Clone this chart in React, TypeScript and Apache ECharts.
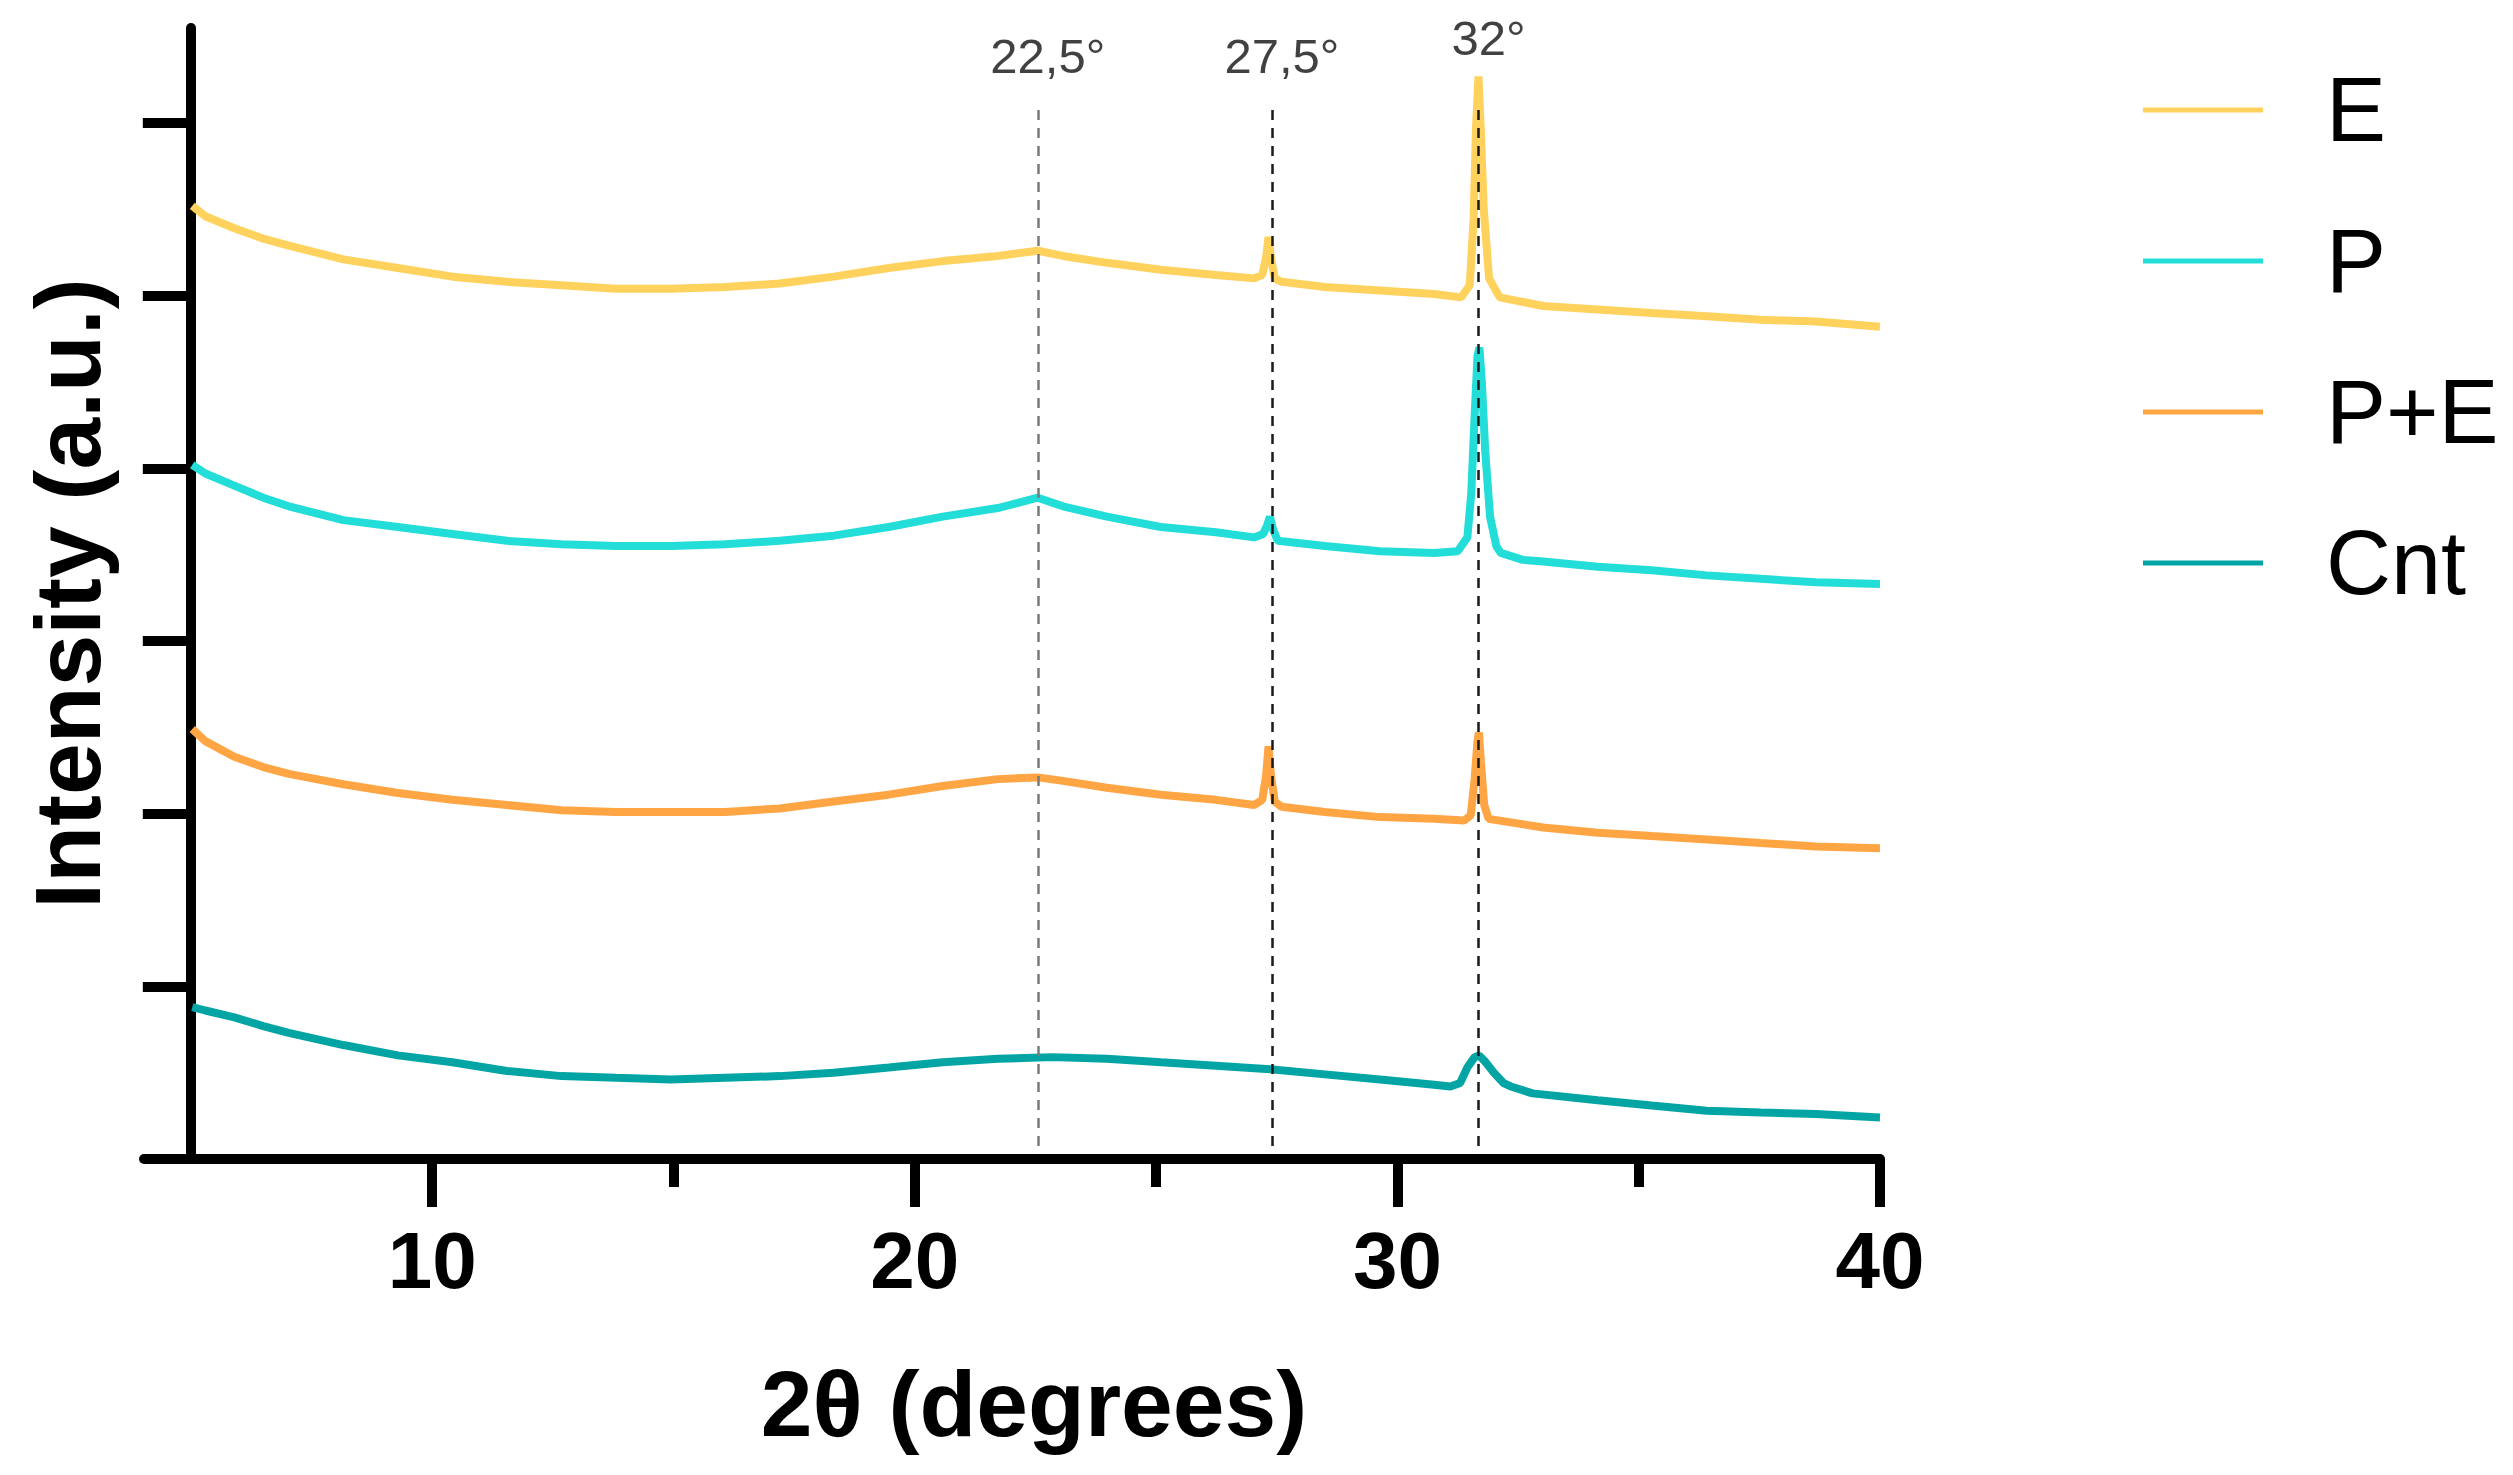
import React, { useEffect, useRef } from 'react';
import * as echarts from 'echarts';

// Diffractograms: [2θ, intensity in a.u. (tick = 1)]
const seriesNames = ['E', 'P', 'P+E', 'Cnt'];
const seriesColors = ['#FFD25E', '#22DDD8', '#FFA544', '#03A4A4'];

const eTrace: [number, number][] = [
  [5.03, 5.52], [5.3, 5.46], [5.9, 5.39], [6.5, 5.33], [7.03, 5.29], [8.16, 5.21],
  [9.29, 5.16], [10.42, 5.11], [11.55, 5.08], [12.68, 5.06], [13.81, 5.04], [14.95, 5.04],
  [16.07, 5.05], [17.2, 5.07], [18.32, 5.11], [19.46, 5.16], [20.58, 5.2], [21.72, 5.23],
  [22.55, 5.26], [23.07, 5.23], [23.98, 5.19], [25.1, 5.15], [26.24, 5.12], [27.03, 5.1],
  [27.2, 5.12], [27.28, 5.22], [27.33, 5.34], [27.38, 5.22], [27.46, 5.1], [27.6, 5.08],
  [28.5, 5.05], [29.64, 5.03], [30.76, 5.01], [31.32, 4.99], [31.5, 5.06], [31.58, 5.45],
  [31.63, 5.98], [31.68, 6.27], [31.73, 5.95], [31.79, 5.5], [31.9, 5.1], [32.12, 4.99],
  [33.02, 4.94], [34.15, 4.92], [35.27, 4.9], [36.41, 4.88], [37.53, 4.86], [38.67, 4.85],
  [40, 4.82],
];

const pTrace: [number, number][] = [
  [5.03, 4.02], [5.3, 3.97], [5.9, 3.9], [6.5, 3.83], [7.03, 3.78], [8.16, 3.7],
  [9.29, 3.66], [10.42, 3.62], [11.55, 3.58], [12.68, 3.56], [13.81, 3.55], [14.95, 3.55],
  [16.07, 3.56], [17.2, 3.58], [18.32, 3.61], [19.46, 3.66], [20.58, 3.72], [21.72, 3.77],
  [22.55, 3.83], [23.07, 3.78], [23.98, 3.72], [25.1, 3.66], [26.24, 3.63], [27.03, 3.6],
  [27.22, 3.62], [27.3, 3.67], [27.36, 3.72], [27.42, 3.65], [27.52, 3.58], [28.5, 3.55],
  [29.64, 3.52], [30.76, 3.51], [31.25, 3.52], [31.45, 3.6], [31.53, 3.85], [31.6, 4.3],
  [31.66, 4.65], [31.7, 4.7], [31.75, 4.5], [31.82, 4.1], [31.92, 3.72], [32.05, 3.55],
  [32.14, 3.51], [32.6, 3.47], [33.02, 3.46], [34.15, 3.43], [35.27, 3.41], [36.41, 3.38],
  [37.53, 3.36], [38.67, 3.34], [40, 3.33],
];

const peTrace: [number, number][] = [
  [5.03, 2.49], [5.3, 2.42], [5.9, 2.33], [6.5, 2.27], [7.03, 2.23], [8.16, 2.17],
  [9.29, 2.12], [10.42, 2.08], [11.55, 2.05], [12.68, 2.02], [13.81, 2.01], [14.95, 2.01],
  [16.07, 2.01], [17.2, 2.03], [18.32, 2.07], [19.46, 2.11], [20.58, 2.16], [21.72, 2.2],
  [22.55, 2.21], [23.07, 2.19], [23.98, 2.15], [25.1, 2.11], [26.24, 2.08], [27.03, 2.05],
  [27.2, 2.08], [27.28, 2.22], [27.33, 2.39], [27.38, 2.22], [27.46, 2.07], [27.6, 2.04],
  [28.5, 2.01], [29.64, 1.98], [30.76, 1.97], [31.38, 1.96], [31.52, 1.99], [31.6, 2.2],
  [31.66, 2.42], [31.69, 2.47], [31.73, 2.3], [31.8, 2.05], [31.89, 1.97], [33.02, 1.92],
  [34.15, 1.89], [35.27, 1.87], [36.41, 1.85], [37.53, 1.83], [38.67, 1.81], [40, 1.8],
];

const cntTrace: [number, number][] = [
  [5.03, 0.88], [5.3, 0.86], [5.9, 0.82], [6.5, 0.77], [7.03, 0.73], [8.16, 0.66],
  [9.29, 0.6], [10.42, 0.56], [11.55, 0.51], [12.68, 0.48], [13.81, 0.47], [14.95, 0.46],
  [16.07, 0.47], [17.2, 0.48], [18.32, 0.5], [19.46, 0.53], [20.58, 0.56], [21.72, 0.58],
  [22.85, 0.59], [23.98, 0.58], [25.1, 0.56], [26.24, 0.54], [27.36, 0.52], [28.5, 0.49],
  [29.64, 0.46], [30.76, 0.43], [31.1, 0.42], [31.3, 0.44], [31.45, 0.53], [31.6, 0.59],
  [31.69, 0.6], [31.8, 0.57], [32.0, 0.5], [32.2, 0.44], [32.35, 0.42], [32.8, 0.38],
  [34.15, 0.34], [35.27, 0.31], [36.41, 0.28], [37.53, 0.27], [38.67, 0.26], [40, 0.24],
];

const traces = [eTrace, pTrace, peTrace, cntTrace];

const xMajorTicks = [10, 20, 30, 40];
const xMinorTicks = [15, 25, 35];
const yTicks = [1, 2, 3, 4, 5, 6];

// reference lines and their captions
const peakPositions = [22.55, 27.4, 31.68];
const peakLabels = ['22,5°', '27,5°', '32°'];
const peakLabelY = [6.39, 6.39, 6.49];
const peakLineColors = ['#7a7a7a', '#1a1a1a', '#1a1a1a'];
const peakLineFrom = 0.075;
const peakLineTo = 6.08;

const X_MIN = 4.03; // x axis line runs a little past the y axis (which sits at 5)
const X_MAX = 40;
const Y_MAX = 6.55;

const GRID = { left: 144, right: 633, top: 28, bottom: 316 };
const FONT = '"Liberation Sans", Arial, Helvetica, sans-serif';

export default function App() {
  const chartRef = useRef<HTMLDivElement>(null);

  useEffect(() => {
    if (!chartRef.current) return;
    const chart = echarts.init(chartRef.current, undefined, { renderer: 'svg' });

    const gridWidth = chartRef.current.clientWidth - GRID.left - GRID.right;
    const yAxisShift = -((5 - X_MIN) / (X_MAX - X_MIN)) * gridWidth;

    const traceSeries = seriesNames.map((name, i) => ({
      name,
      type: 'line' as const,
      data: traces[i],
      symbol: 'none',
      lineStyle: { color: seriesColors[i], width: 8 },
      itemStyle: { color: seriesColors[i] },
      z: 2,
    }));

    const option: echarts.EChartsOption = {
      animation: false,
      backgroundColor: '#ffffff',
      grid: { ...GRID, containLabel: false, outerBoundsMode: 'none' } as any,
      legend: {
        data: seriesNames,
        orient: 'vertical',
        left: 2138,
        top: 60,
        icon: 'rect',
        itemWidth: 120,
        itemHeight: 5,
        itemGap: 61,
        selectedMode: false,
        textStyle: {
          fontSize: 90,
          lineHeight: 90,
          fontFamily: FONT,
          color: '#000',
          padding: [0, 0, 0, 58],
        },
      },
      xAxis: [
        {
          type: 'value',
          min: X_MIN,
          max: X_MAX,
          position: 'bottom',
          splitLine: { show: false },
          axisLine: { lineStyle: { color: '#000', width: 10 } },
          axisTick: {
            customValues: xMajorTicks,
            length: 48,
            lineStyle: { color: '#000', width: 10 },
          },
          axisLabel: {
            customValues: xMajorTicks,
            margin: 61,
            fontSize: 80,
            fontWeight: 'bold',
            fontFamily: FONT,
            color: '#000',
          },
          name: '2θ (degrees)',
          nameLocation: 'middle',
          nameGap: 198,
          nameTextStyle: {
            fontSize: 93,
            fontWeight: 'bold',
            fontFamily: FONT,
            color: '#000',
            padding: [0, 0, 0, 44],
          },
        } as any,
        {
          type: 'value',
          min: X_MIN,
          max: X_MAX,
          position: 'bottom',
          splitLine: { show: false },
          axisLine: { show: false },
          axisTick: {
            customValues: xMinorTicks,
            length: 28,
            lineStyle: { color: '#000', width: 10 },
          },
          axisLabel: { show: false },
        } as any,
      ],
      yAxis: {
        type: 'value',
        min: 0,
        max: Y_MAX,
        offset: yAxisShift,
        splitLine: { show: false },
        axisLine: { show: true, lineStyle: { color: '#000', width: 10 } },
        axisTick: {
          show: true,
          customValues: yTicks,
          length: 48,
          lineStyle: { color: '#000', width: 10 },
        },
        axisLabel: { show: false },
        name: 'Intensity (a.u.)',
        nameLocation: 'middle',
        nameGap: 76,
        nameTextStyle: {
          fontSize: 93,
          fontWeight: 'bold',
          fontFamily: FONT,
          color: '#000',
        },
      } as any,
      series: [
        ...traceSeries,
        {
          name: 'peaks',
          type: 'line',
          data: [],
          z: 5,
          markLine: {
            silent: true,
            symbol: ['none', 'none'],
            label: { show: false },
            data: peakPositions.map((x, i) => [
              {
                coord: [x, peakLineFrom],
                lineStyle: { color: peakLineColors[i], width: 2.5, type: [10, 8] },
              },
              { coord: [x, peakLineTo] },
            ]) as any,
          },
        },
        {
          name: 'peakLabels',
          type: 'scatter',
          symbolSize: 0,
          silent: true,
          z: 6,
          data: peakPositions.map((x, i) => [x, peakLabelY[i]]),
          label: {
            show: true,
            position: 'inside',
            offset: [10, 0],
            formatter: (p: any) => peakLabels[p.dataIndex],
            fontSize: 49,
            fontFamily: FONT,
            color: '#111',
          },
        },
      ],
    };

    chart.setOption(option);

    const handleResize = () => chart.resize();
    window.addEventListener('resize', handleResize);
    return () => {
      window.removeEventListener('resize', handleResize);
      chart.dispose();
    };
  }, []);

  return (
    <div
      ref={chartRef}
      style={{ position: 'fixed', left: 0, top: 0, width: '100vw', height: '100vh', background: '#fff' }}
    />
  );
}
